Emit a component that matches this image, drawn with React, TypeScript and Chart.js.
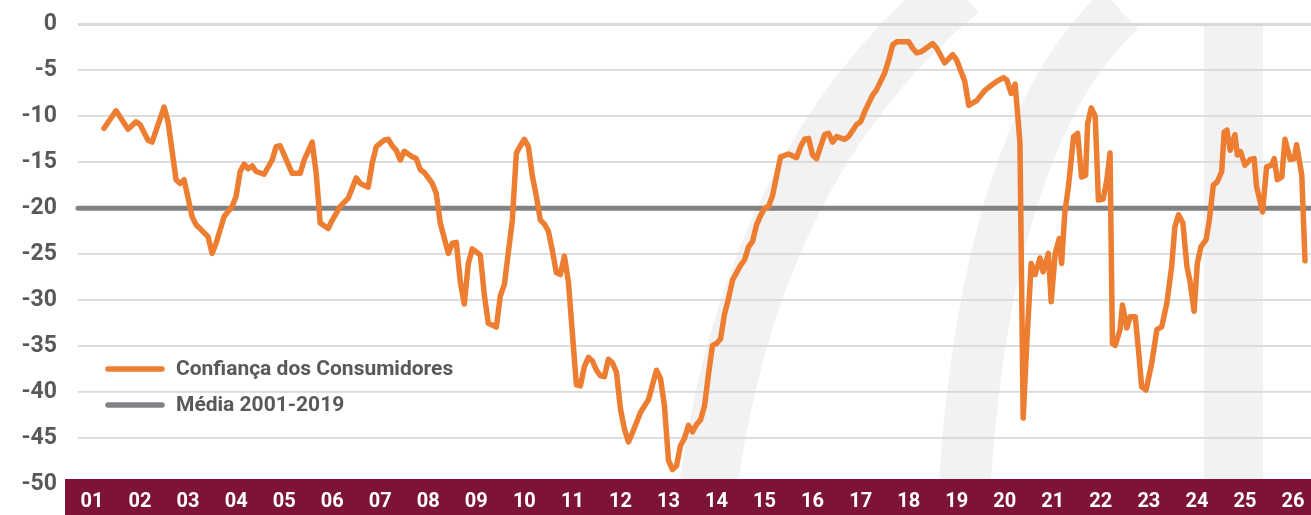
import React, { useEffect, useRef } from "react";
import { Chart, registerables } from "chart.js";

Chart.register(...registerables);

// Year tick labels (one per January, starting 2001)
const yearLabels = [
  "01", "02", "03", "04", "05", "06", "07", "08", "09", "10", "11", "12", "13",
  "14", "15", "16", "17", "18", "19", "20", "21", "22", "23", "24", "25", "26",
];

// Month index (0 = Jan 2001) of each reading
const monthIndex = [
  3, 6, 9, 11, 12, 14, 15, 18, 19, 21, 22, 23, 25, 26, 27, 29, 30, 31, 33, 35,
  36, 37, 38, 39, 40, 41, 43, 45, 46, 47, 48, 50, 52, 53, 55, 56, 57, 59, 60, 62,
  64, 66, 67, 69, 70, 71, 73, 74, 75, 76, 77, 78, 80, 81, 82, 83, 85, 86, 87, 89,
  90, 91, 92, 93, 94, 95, 97, 98, 99, 101, 102, 103, 105, 106, 107, 108, 109, 110, 111, 112,
  113, 114, 115, 116, 117, 118, 119, 121, 122, 123, 124, 125, 126, 127, 128, 129, 130, 131, 132, 133,
  134, 135, 136, 137, 139, 140, 141, 142, 143, 144, 145, 146, 147, 148, 149, 150, 151, 152, 153, 154,
  155, 156, 157, 158, 159, 160, 162, 163, 164, 165, 166, 167, 168, 169, 170, 172, 174, 176, 177, 178,
  179, 180, 181, 182, 183, 184, 185, 186, 188, 189, 191, 192, 193, 194, 195, 196, 198, 199, 200, 201,
  204, 205, 206, 207, 210, 211, 213, 215, 216, 218, 219, 221, 223, 224, 226, 227.7, 228.5, 229.6, 230.6, 231.8,
  232.6, 233.5, 234.6, 235.6, 236.8, 237.6, 238.9, 239.6, 240.6, 241.6, 242.2, 243.0, 243.9, 245.2, 246.2, 247.2,
  248.2, 248.7, 249.6, 250.6, 251.4, 252.6, 253.5, 254.3, 254.9, 255.6, 256.8, 257.4, 258.5, 259.3, 260.6, 261.4,
  262.2, 263.3, 264.7, 266.0, 267.2, 268.5, 269.7, 270.5, 271.4, 272.5, 273.5, 274.3, 275.3, 276.1, 277.0, 278.3,
  279.1, 280.1, 281.1, 282.2, 282.8, 283.5, 284.3, 285.5, 286.1, 286.9, 288.0, 289.3, 290.3, 290.9, 292.4, 293.4,
  294.7, 295.3, 296.1, 297.2, 298.0, 299.3, 300.3, 300.9, 302.2, 303.0,
];

// Confiança dos Consumidores (saldo)
const confianca = [
  -11.3, -9.4, -11.4, -10.6, -10.9, -12.6, -12.8, -9.0, -10.6, -16.9, -17.3, -16.9, -20.9, -21.8, -22.2, -23.1, -24.9, -23.8, -20.9, -19.8,
  -18.7, -16.0, -15.2, -15.7, -15.4, -16.0, -16.3, -14.75, -13.3, -13.2, -14.2, -16.2, -16.2, -14.75, -12.8, -16.2, -21.6, -22.2, -21.3, -19.8,
  -18.9, -16.7, -17.3, -17.7, -15.1, -13.3, -12.6, -12.5, -13.2, -13.7, -14.75, -13.8, -14.4, -14.6, -15.8, -16.1, -17.3, -18.4, -21.6, -24.9,
  -23.8, -23.7, -28.0, -30.4, -26.0, -24.4, -25.1, -29.4, -32.5, -32.9, -29.5, -28.3, -21.3, -14.0, -13.2, -12.5, -13.3, -16.5, -18.7, -21.3,
  -21.7, -22.5, -24.6, -27.0, -27.2, -25.2, -28.0, -39.2, -39.3, -37.2, -36.2, -36.6, -37.6, -38.2, -38.3, -36.4, -36.8, -37.8, -41.8, -44.0,
  -45.4, -44.4, -43.3, -42.2, -40.8, -39.2, -37.6, -38.5, -41.5, -47.4, -48.4, -48.0, -45.8, -45.0, -43.6, -44.3, -43.5, -43.0, -41.5, -38.0,
  -34.9, -34.7, -34.2, -31.5, -29.8, -27.8, -26.2, -25.6, -24.2, -23.6, -21.8, -20.8, -20.0, -19.8, -18.6, -14.4, -14.1, -14.5, -13.3, -12.5,
  -12.4, -14.2, -14.6, -13.3, -12.0, -11.85, -12.8, -12.2, -12.5, -12.2, -10.9, -10.6, -9.5, -8.6, -7.7, -7.1, -5.3, -3.9, -2.25, -1.9,
  -1.9, -2.6, -3.1, -3.0, -2.1, -2.6, -4.2, -3.3, -3.9, -6.2, -8.8, -8.3, -7.2, -6.85, -6.2, -5.8, -6.05, -7.5, -6.5, -12.9,
  -42.8, -34.7, -26.0, -27.2, -25.4, -26.9, -24.9, -30.15, -24.9, -23.3, -26.0, -20.5, -17.65, -12.2, -11.85, -16.6,
  -16.4, -10.8, -9.1, -10.0, -19.1, -19.0, -16.9, -14.0, -34.7, -34.9, -33.2, -30.5, -33.0, -31.8, -31.8, -35.4,
  -39.4, -39.75, -36.85, -33.2, -32.9, -30.3, -26.3, -22.0, -20.7, -21.6, -26.3, -28.0, -31.2, -26.0, -24.2, -23.4,
  -21.3, -17.5, -17.1, -16.0, -11.7, -11.5, -13.7, -12.0, -14.2, -13.85, -15.3, -14.7, -14.6, -17.65, -20.4, -15.5,
  -15.3, -14.6, -16.9, -16.6, -12.5, -14.7, -14.6, -13.1, -16.4, -25.7,
];

// Média 2001-2019
const mediaValue = -20;

const seriesNames = ["Confiança dos Consumidores", "Média 2001-2019"];
const seriesColors = ["#ED7D31", "#818286"];

const X_MIN = -3.5;
const X_MAX = 304.5;
const Y_MIN = -50;
const Y_MAX = 0;
const Y_STEP = 5;

const FONT = "Roboto, 'DejaVu Sans', sans-serif";
const TEXT_GRAY = "#58595B";
const BAND = "#7D1335";
const WATERMARK = "#F2F2F2";

const backgroundPlugin = {
  id: "bandAndBackground",
  beforeDraw(chart: any) {
    const { ctx, width, height } = chart;
    ctx.save();
    ctx.fillStyle = "#ffffff";
    ctx.fillRect(0, 0, width, height);

    // faint decorative watermark (logo) behind the plot
    ctx.strokeStyle = WATERMARK;
    ctx.lineCap = "butt";
    ctx.lineWidth = 58;
    ctx.beginPath();
    ctx.moveTo(703, 530);
    ctx.quadraticCurveTo(740, 170, 960, -10);
    ctx.stroke();

    ctx.lineWidth = 52;
    ctx.beginPath();
    ctx.moveTo(962, 530);
    ctx.quadraticCurveTo(980, 140, 1120, 10);
    ctx.stroke();

    ctx.fillStyle = WATERMARK;
    ctx.fillRect(1204, 26, 59, 460);

    ctx.fillStyle = BAND;
    ctx.fillRect(65, 479, width - 65, height - 479);
    ctx.restore();
  },
};

const legendPlugin = {
  id: "insideLegend",
  afterDraw(chart: any) {
    const { ctx } = chart;
    ctx.save();
    chart.data.datasets.forEach((ds: any, i: number) => {
      const y = 369 + i * 36;
      ctx.strokeStyle = ds.borderColor;
      ctx.lineWidth = 5.5;
      ctx.lineCap = "round";
      ctx.beginPath();
      ctx.moveTo(108, y);
      ctx.lineTo(162, y);
      ctx.stroke();
      ctx.fillStyle = TEXT_GRAY;
      ctx.font = `bold 21px ${FONT}`;
      ctx.textAlign = "left";
      ctx.textBaseline = "middle";
      ctx.fillText(ds.label, 176, y + 1);
    });
    ctx.restore();
  },
};

export default function App() {
  const canvasRef = useRef<HTMLCanvasElement | null>(null);

  useEffect(() => {
    document.body.style.margin = "0";
    const canvas = canvasRef.current;
    if (!canvas) return;
    const chart = new Chart(canvas, {
      type: "line",
      data: {
        datasets: [
          {
            label: seriesNames[0],
            data: monthIndex.map((m, i) => ({ x: m, y: confianca[i] })),
            borderColor: seriesColors[0],
            backgroundColor: seriesColors[0],
            borderWidth: 5.5,
            pointRadius: 0,
            tension: 0,
            borderJoinStyle: "round",
            borderCapStyle: "round",
            clip: false,
          } as any,
          {
            label: seriesNames[1],
            data: [
              { x: X_MIN, y: mediaValue },
              { x: X_MAX, y: mediaValue },
            ],
            borderColor: seriesColors[1],
            backgroundColor: seriesColors[1],
            borderWidth: 5,
            pointRadius: 0,
            borderCapStyle: "round",
            clip: false,
          } as any,
        ],
      },
      options: {
        responsive: false,
        animation: false,
        events: [],
        layout: { padding: { top: 24.3, left: 0, right: 0, bottom: 0 } },
        plugins: {
          legend: { display: false },
          tooltip: { enabled: false },
        },
        scales: {
          x: {
            type: "linear",
            min: X_MIN,
            max: X_MAX,
            grid: { display: false, drawTicks: false },
            border: { display: false },
            afterBuildTicks: (scale: any) => {
              scale.ticks = yearLabels.map((_, i) => ({ value: i * 12 }));
            },
            afterFit: (scale: any) => {
              scale.height = 30.7;
              scale.paddingLeft = 0;
              scale.paddingRight = 0;
            },
            ticks: {
              autoSkip: false,
              maxRotation: 0,
              minRotation: 0,
              padding: 6,
              color: "#ffffff",
              font: { family: FONT, weight: "bold", size: 20 },
              callback: (_v: any, i: number) => yearLabels[i],
            },
          },
          y: {
            min: Y_MIN,
            max: Y_MAX,
            afterFit: (scale: any) => {
              scale.width = 78;
              scale.paddingTop = 0;
              scale.paddingBottom = 0;
            },
            grid: {
              drawTicks: false,
              color: (c: any) => (c.tick && c.tick.value === Y_MIN ? "rgba(0,0,0,0)" : "#D9D9D9"),
              lineWidth: (c: any) => (c.tick && c.tick.value === Y_MAX ? 3 : 1.8),
            },
            border: { display: false },
            ticks: {
              stepSize: Y_STEP,
              padding: 21,
              color: TEXT_GRAY,
              font: { family: FONT, weight: "bold", size: 23 },
              callback: (v: any) => String(v),
            },
          },
        },
      } as any,
      plugins: [backgroundPlugin, legendPlugin],
    });
    return () => chart.destroy();
  }, []);

  return (
    <div style={{ width: 1311, height: 515 }}>
      <canvas ref={canvasRef} width={1311} height={515} style={{ display: "block", width: 1311, height: 515 }} />
    </div>
  );
}
